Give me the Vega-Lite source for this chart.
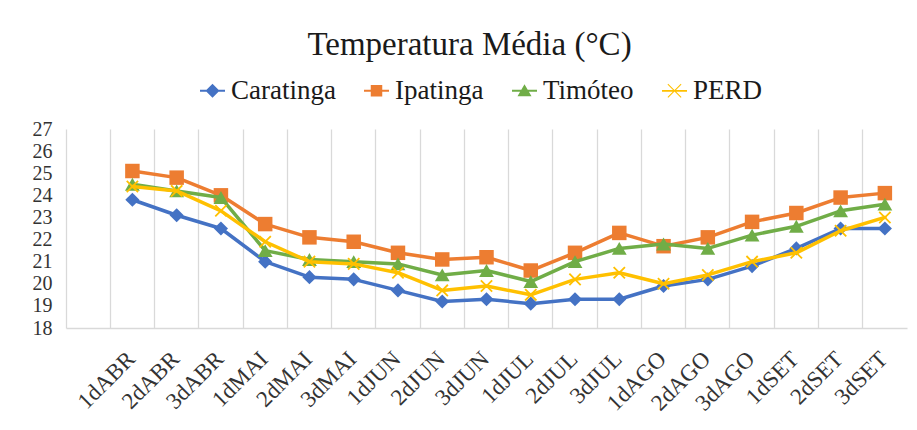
{
  "$schema": "https://vega.github.io/schema/vega-lite/v6.json",
  "autosize": "none",
  "width": 841,
  "height": 199,
  "padding": {"left": 66, "top": 129, "right": 10, "bottom": 102},
  "background": "white",
  "config": {"font": "Liberation Serif", "view": {"stroke": null}},
  "title": {"text": "Temperatura Média (°C)", "fontSize": 33, "fontWeight": "normal", "font": "Liberation Serif", "color": "#1a1a1a", "anchor": "middle", "baseline": "alphabetic", "offset": 19, "dy": 30, "dx": -17},
  "data": {"values": [
    {"period":"1dABR","series":"Caratinga","temp":23.8},{"period":"2dABR","series":"Caratinga","temp":23.1},{"period":"3dABR","series":"Caratinga","temp":22.5},{"period":"1dMAI","series":"Caratinga","temp":21.0},{"period":"2dMAI","series":"Caratinga","temp":20.3},{"period":"3dMAI","series":"Caratinga","temp":20.2},{"period":"1dJUN","series":"Caratinga","temp":19.7},{"period":"2dJUN","series":"Caratinga","temp":19.2},{"period":"3dJUN","series":"Caratinga","temp":19.3},{"period":"1dJUL","series":"Caratinga","temp":19.1},{"period":"2dJUL","series":"Caratinga","temp":19.3},{"period":"3dJUL","series":"Caratinga","temp":19.3},{"period":"1dAGO","series":"Caratinga","temp":19.9},{"period":"2dAGO","series":"Caratinga","temp":20.2},{"period":"3dAGO","series":"Caratinga","temp":20.8},{"period":"1dSET","series":"Caratinga","temp":21.6},{"period":"2dSET","series":"Caratinga","temp":22.5},{"period":"3dSET","series":"Caratinga","temp":22.5},
    {"period":"1dABR","series":"Ipatinga","temp":25.1},{"period":"2dABR","series":"Ipatinga","temp":24.8},{"period":"3dABR","series":"Ipatinga","temp":24.0},{"period":"1dMAI","series":"Ipatinga","temp":22.7},{"period":"2dMAI","series":"Ipatinga","temp":22.1},{"period":"3dMAI","series":"Ipatinga","temp":21.9},{"period":"1dJUN","series":"Ipatinga","temp":21.4},{"period":"2dJUN","series":"Ipatinga","temp":21.1},{"period":"3dJUN","series":"Ipatinga","temp":21.2},{"period":"1dJUL","series":"Ipatinga","temp":20.6},{"period":"2dJUL","series":"Ipatinga","temp":21.4},{"period":"3dJUL","series":"Ipatinga","temp":22.3},{"period":"1dAGO","series":"Ipatinga","temp":21.7},{"period":"2dAGO","series":"Ipatinga","temp":22.1},{"period":"3dAGO","series":"Ipatinga","temp":22.8},{"period":"1dSET","series":"Ipatinga","temp":23.2},{"period":"2dSET","series":"Ipatinga","temp":23.9},{"period":"3dSET","series":"Ipatinga","temp":24.1},
    {"period":"1dABR","series":"Timóteo","temp":24.5},{"period":"2dABR","series":"Timóteo","temp":24.2},{"period":"3dABR","series":"Timóteo","temp":23.9},{"period":"1dMAI","series":"Timóteo","temp":21.5},{"period":"2dMAI","series":"Timóteo","temp":21.1},{"period":"3dMAI","series":"Timóteo","temp":21.0},{"period":"1dJUN","series":"Timóteo","temp":20.9},{"period":"2dJUN","series":"Timóteo","temp":20.4},{"period":"3dJUN","series":"Timóteo","temp":20.6},{"period":"1dJUL","series":"Timóteo","temp":20.1},{"period":"2dJUL","series":"Timóteo","temp":21.0},{"period":"3dJUL","series":"Timóteo","temp":21.6},{"period":"1dAGO","series":"Timóteo","temp":21.8},{"period":"2dAGO","series":"Timóteo","temp":21.6},{"period":"3dAGO","series":"Timóteo","temp":22.2},{"period":"1dSET","series":"Timóteo","temp":22.6},{"period":"2dSET","series":"Timóteo","temp":23.3},{"period":"3dSET","series":"Timóteo","temp":23.6},
    {"period":"1dABR","series":"PERD","temp":24.4},{"period":"2dABR","series":"PERD","temp":24.2},{"period":"3dABR","series":"PERD","temp":23.3},{"period":"1dMAI","series":"PERD","temp":21.9},{"period":"2dMAI","series":"PERD","temp":21.0},{"period":"3dMAI","series":"PERD","temp":20.9},{"period":"1dJUN","series":"PERD","temp":20.5},{"period":"2dJUN","series":"PERD","temp":19.7},{"period":"3dJUN","series":"PERD","temp":19.9},{"period":"1dJUL","series":"PERD","temp":19.5},{"period":"2dJUL","series":"PERD","temp":20.2},{"period":"3dJUL","series":"PERD","temp":20.5},{"period":"1dAGO","series":"PERD","temp":20.0},{"period":"2dAGO","series":"PERD","temp":20.4},{"period":"3dAGO","series":"PERD","temp":21.0},{"period":"1dSET","series":"PERD","temp":21.4},{"period":"2dSET","series":"PERD","temp":22.4},{"period":"3dSET","series":"PERD","temp":23.0}
  ]},
  "encoding": {
    "x": {
      "field": "period", "type": "nominal", "bandPosition": 0.5,
      "scale": {"type": "band", "paddingInner": 0, "paddingOuter": 0,
        "domain": [" ","1dABR","2dABR","3dABR","1dMAI","2dMAI","3dMAI","1dJUN","2dJUN","3dJUN","1dJUL","2dJUL","3dJUL","1dAGO","2dAGO","3dAGO","1dSET","2dSET","3dSET"]},
      "axis": {"title": null, "bandPosition": 0, "grid": true, "gridColor": "#d9d9d9", "gridWidth": 1.3, "ticks": false, "domain": true, "domainColor": "#d9d9d9", "domainWidth": 1.3, "labelAngle": -45, "labelOffset": -1, "labelPadding": 27, "labelFontSize": 23, "labelFont": "Liberation Serif", "labelColor": "#333333", "labelAlign": "right", "labelBaseline": "middle", "labelOverlap": false}
    },
    "y": {
      "field": "temp", "type": "quantitative",
      "scale": {"domain": [18, 27], "nice": false, "zero": false},
      "axis": {"title": null, "values": [18,19,20,21,22,23,24,25,26,27], "grid": false, "ticks": false, "domain": false, "labelPadding": 14, "labelFontSize": 20, "labelFont": "Liberation Serif", "labelColor": "#333333", "labelOverlap": false}
    }
  },
  "layer": [
    {"mark": {"type": "point", "filled": true, "size": 0, "opacity": 1},
     "encoding": {
       "color": {
         "field": "series", "type": "nominal",
         "scale": {"domain": ["Caratinga","Ipatinga","Timóteo","PERD"], "range": ["#4472C4","#ED7D31","#70AD47","#FFC000"]},
         "legend": {
           "title": null, "orient": "none", "direction": "horizontal", "legendX": 133, "legendY": -52, "padding": 0,
           "labelFontSize": 27, "labelFont": "Liberation Serif", "labelColor": "#1a1a1a", "labelOffset": 5, "columnPadding": 27,
           "symbolSize": 625, "symbolStrokeWidth": 0, "symbolOpacity": 1
         }
       },
       "shape": {
         "field": "series", "type": "nominal",
         "scale": {"domain": ["Caratinga","Ipatinga","Timóteo","PERD"], "range": [
           "M-1,-0.08H1V0.08H-1Z M0,-0.56L0.56,0L0,0.56L-0.56,0Z",
           "M-1,-0.08H1V0.08H-1Z M-0.46,-0.46H0.46V0.46H-0.46Z",
           "M-1,-0.08H1V0.08H-1Z M0,-0.52L0.56,0.44H-0.56Z",
           "M-1,-0.07H1V0.07H-1Z M-0.5,-0.56L0.56,0.5L0.5,0.56L-0.56,-0.5Z M-0.5,0.56L-0.56,0.5L0.5,-0.56L0.56,-0.5Z"]},
         "legend": {"title": null, "orient": "none", "direction": "horizontal", "legendX": 133, "legendY": -52, "padding": 0,
           "labelFontSize": 27, "labelFont": "Liberation Serif", "labelColor": "#1a1a1a", "labelOffset": 5, "columnPadding": 27,
           "symbolSize": 625, "symbolStrokeWidth": 0, "symbolOpacity": 1}
       }
     }},
    {"transform": [{"filter": "datum.series === 'Caratinga'"}],
     "layer": [
       {"mark": {"type": "line", "color": "#4472C4", "strokeWidth": 3.5, "strokeJoin": "round", "strokeCap": "round"}},
       {"mark": {"type": "point", "filled": true, "shape": "diamond", "size": 200, "color": "#4472C4", "opacity": 1}}
     ]},
    {"transform": [{"filter": "datum.series === 'Ipatinga'"}],
     "layer": [
       {"mark": {"type": "line", "color": "#ED7D31", "strokeWidth": 3.5, "strokeJoin": "round", "strokeCap": "round"}},
       {"mark": {"type": "point", "filled": true, "shape": "square", "size": 210, "color": "#ED7D31", "opacity": 1}}
     ]},
    {"transform": [{"filter": "datum.series === 'Timóteo'"}],
     "layer": [
       {"mark": {"type": "line", "color": "#70AD47", "strokeWidth": 3.5, "strokeJoin": "round", "strokeCap": "round"}},
       {"mark": {"type": "point", "filled": true, "shape": "triangle-up", "size": 220, "color": "#70AD47", "opacity": 1}}
     ]},
    {"transform": [{"filter": "datum.series === 'PERD'"}],
     "layer": [
       {"mark": {"type": "line", "color": "#FFC000", "strokeWidth": 3.5, "strokeJoin": "round", "strokeCap": "round"}},
       {"mark": {"type": "point", "filled": true, "shape": "M-0.71,-0.89L0.89,0.71L0.71,0.89L-0.89,-0.71Z M-0.71,0.89L-0.89,0.71L0.71,-0.89L0.89,-0.71Z", "size": 200, "color": "#FFC000", "opacity": 1}}
     ]}
  ]
}
